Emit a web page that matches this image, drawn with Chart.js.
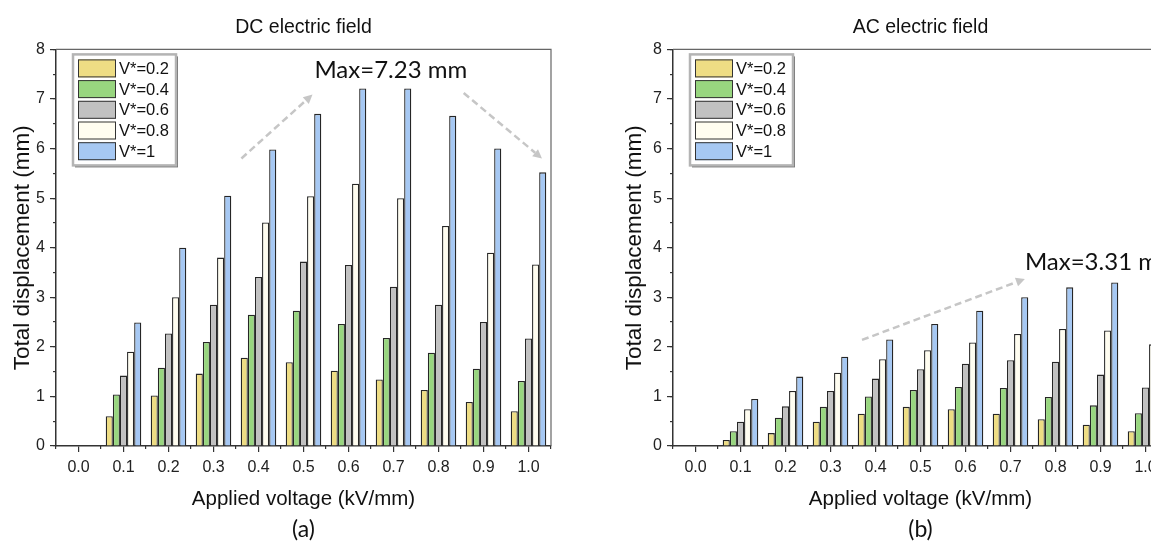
<!DOCTYPE html>
<html>
<head>
<meta charset="utf-8">
<script src="https://cdn.jsdelivr.net/npm/chart.js@4.4.1/dist/chart.umd.min.js"></script>
<style>
  html, body { margin: 0; padding: 0; background: #fff; overflow: hidden; }
  #wrap { position: relative; width: 1151px; height: 547px; overflow: hidden; }
  #dc-chart { position: absolute; left: 0; top: 0; }
  #ac-chart { position: absolute; left: 600px; top: 0; }
</style>
</head>
<body>
<div id="wrap">
  <canvas id="dc-chart" width="575" height="547"></canvas>
  <canvas id="ac-chart" width="600" height="547"></canvas>
</div>
<script>
const voltages = ["0.0", "0.1", "0.2", "0.3", "0.4", "0.5", "0.6", "0.7", "0.8", "0.9", "1.0"];
const seriesLabels = ["V*=0.2", "V*=0.4", "V*=0.6", "V*=0.8", "V*=1"];
const yTicks = [0, 1, 2, 3, 4, 5, 6, 7, 8];

// DC field, total displacement (mm)
const dcV02 = [0, 0.60, 1.02, 1.46, 1.78, 1.69, 1.52, 1.34, 1.13, 0.89, 0.70];
const dcV04 = [0, 1.04, 1.58, 2.10, 2.65, 2.73, 2.46, 2.18, 1.88, 1.56, 1.31];
const dcV06 = [0, 1.42, 2.27, 2.85, 3.41, 3.72, 3.65, 3.21, 2.85, 2.50, 2.17];
const dcV08 = [0, 1.90, 3.00, 3.80, 4.51, 5.04, 5.29, 5.00, 4.44, 3.90, 3.66];
const dcV10 = [0, 2.49, 4.00, 5.05, 5.98, 6.70, 7.21, 7.21, 6.66, 6.00, 5.52];

// AC field, total displacement (mm)
const acV02 = [0, 0.12, 0.26, 0.49, 0.65, 0.79, 0.74, 0.65, 0.54, 0.43, 0.30];
const acV04 = [0, 0.30, 0.57, 0.79, 1.00, 1.13, 1.19, 1.17, 0.99, 0.82, 0.66];
const acV06 = [0, 0.49, 0.80, 1.11, 1.36, 1.55, 1.66, 1.73, 1.70, 1.44, 1.18];
const acV08 = [0, 0.74, 1.11, 1.48, 1.75, 1.93, 2.09, 2.26, 2.36, 2.33, 2.05];
const acV10 = [0, 0.95, 1.40, 1.80, 2.15, 2.46, 2.73, 3.00, 3.20, 3.30, 3.31];

const barColors = ["#EEDD84", "#98D67F", "#C1C1C1", "#FFFDF0", "#A6C8F3"];
const tickFont = '"Liberation Sans", Arial, sans-serif';
const noteFont = 'Lato, "Open Sans", sans-serif';

function makeDatasets(series) {
  return series.map((values, i) => ({
    label: seriesLabels[i],
    data: values,
    backgroundColor: barColors[i],
    borderColor: "#262626",
    borderWidth: 1.3,
    barPercentage: 1.0,
    categoryPercentage: 0.79
  }));
}

// plot frame (top + right edge)
const framePlugin = {
  id: "frame",
  afterDraw(chart) {
    const { ctx, chartArea: a } = chart;
    ctx.save();
    ctx.strokeStyle = "#666";
    ctx.lineWidth = 1.2;
    ctx.beginPath();
    ctx.moveTo(a.left, a.top);
    ctx.lineTo(a.right, a.top);
    ctx.lineTo(a.right, a.bottom);
    ctx.stroke();
    ctx.restore();
  }
};

// boxed legend inside the plot, top-left
const boxLegend = {
  id: "boxLegend",
  afterDraw(chart) {
    const { ctx, chartArea: a } = chart;
    const x0 = a.left + 17, y0 = a.top + 5, w = 103, h = 111, rowH = 20.7;
    ctx.save();
    ctx.fillStyle = "#707070";
    ctx.fillRect(x0 + 2, y0 + 2, w, h);
    ctx.fillStyle = "#fff";
    ctx.fillRect(x0, y0, w, h);
    ctx.strokeStyle = "#b4b4b4";
    ctx.lineWidth = 2.5;
    ctx.strokeRect(x0, y0, w, h);
    ctx.font = "16.5px " + tickFont;
    ctx.textBaseline = "middle";
    chart.data.datasets.forEach((ds, i) => {
      const sy = y0 + 5 + i * rowH;
      ctx.fillStyle = ds.backgroundColor;
      ctx.fillRect(x0 + 5, sy, 38, 18);
      ctx.strokeStyle = "#333";
      ctx.lineWidth = 1;
      ctx.strokeRect(x0 + 5.5, sy + 0.5, 37, 17);
      ctx.fillStyle = "#111";
      ctx.fillText(ds.label, x0 + 46, sy + 10);
    });
    ctx.restore();
  }
};

// dashed arrows + max note, placed in data units
const notePlugin = {
  id: "note",
  afterDatasetsDraw(chart, args, opts) {
    const { ctx } = chart;
    const xs = chart.scales.x, ys = chart.scales.y;
    const px = (p) => [xs.getPixelForValue(p[0]), ys.getPixelForValue(p[1])];
    ctx.save();
    (opts.arrows || []).forEach((ar) => {
      const [x1, y1] = px(ar.from);
      const [x2, y2] = px(ar.to);
      const ang = Math.atan2(y2 - y1, x2 - x1);
      const hl = 9, hw = 4.5;
      const bx = x2 - hl * Math.cos(ang), by = y2 - hl * Math.sin(ang);
      ctx.strokeStyle = "#c6c6c6";
      ctx.fillStyle = "#c6c6c6";
      ctx.lineWidth = 2.5;
      ctx.setLineDash([7, 4]);
      ctx.beginPath();
      ctx.moveTo(x1, y1);
      ctx.lineTo(bx, by);
      ctx.stroke();
      ctx.setLineDash([]);
      ctx.beginPath();
      ctx.moveTo(x2, y2);
      ctx.lineTo(bx + hw * Math.sin(ang), by - hw * Math.cos(ang));
      ctx.lineTo(bx - hw * Math.sin(ang), by + hw * Math.cos(ang));
      ctx.closePath();
      ctx.fill();
    });
    if (opts.text) {
      const [tx, ty] = px(opts.at);
      ctx.font = "24px " + noteFont;
      ctx.fillStyle = "#111";
      ctx.textAlign = opts.align || "center";
      ctx.textBaseline = "middle";
      ctx.fillText(opts.text, tx, ty);
    }
    ctx.restore();
  }
};

function buildChart(canvasId, cfg) {
  const canvas = document.getElementById(canvasId);
  return new Chart(canvas, {
    type: "bar",
    data: { labels: voltages, datasets: makeDatasets(cfg.series) },
    plugins: [framePlugin, boxLegend, notePlugin],
    options: {
      responsive: false,
      animation: false,
      layout: { padding: { left: 0, right: cfg.padRight, top: 0, bottom: 0 } },
      plugins: {
        legend: { display: false },
        tooltip: { enabled: false },
        title: {
          display: true,
          text: cfg.title,
          fullSize: false,
          color: "#111",
          font: { family: tickFont, size: 19.5, weight: "normal" },
          padding: { top: 16, bottom: 10 }
        },
        subtitle: {
          display: true,
          text: cfg.tag,
          position: "bottom",
          fullSize: false,
          color: "#111",
          font: { family: noteFont, size: 23, weight: "normal" },
          padding: { top: 4, bottom: 4 }
        },
        note: cfg.note
      },
      scales: {
        x: {
          type: "category",
          weight: 1,
          offset: true,
          grid: { offset: false, drawOnChartArea: false, tickLength: 6, color: "#333", lineWidth: 1.2 },
          border: { display: true, color: "#333", width: 1.5 },
          ticks: { padding: 6, maxRotation: 0, color: "#222", font: { family: tickFont, size: 16 } },
          title: {
            display: true,
            text: "Applied voltage (kV/mm)",
            color: "#111",
            font: { family: tickFont, size: 20.5 },
            padding: { top: 0, bottom: 0 }
          },
          afterFit: (s) => { s.height = 65.4; }
        },
        xMinor: {
          type: "category",
          position: "bottom",
          weight: 0,
          offset: true,
          grid: { offset: true, drawOnChartArea: false, tickLength: 3, color: "#333", lineWidth: 1.2 },
          border: { display: false },
          ticks: { display: false },
          afterFit: (s) => { s.height = 0; }
        },
        y: {
          type: "linear",
          position: "left",
          weight: 1,
          min: yTicks[0],
          max: yTicks[yTicks.length - 1],
          afterBuildTicks: (s) => { s.ticks = yTicks.map((v) => ({ value: v })); },
          ticks: { padding: 5, color: "#222", font: { family: tickFont, size: 16 } },
          grid: { drawOnChartArea: false, tickLength: 6, color: "#333", lineWidth: 1.2 },
          border: { display: true, color: "#333", width: 1.5 },
          title: {
            display: true,
            text: "Total displacement (mm)",
            color: "#111",
            font: { family: tickFont, size: 22.5 },
            padding: { top: cfg.yTitlePad, bottom: 0 }
          },
          afterFit: (s) => { s.width = cfg.yWidth; }
        },
        yMinor: {
          type: "linear",
          position: "left",
          weight: 0,
          min: 0,
          max: 8,
          ticks: { display: false, stepSize: 0.5 },
          grid: { drawOnChartArea: false, tickLength: 3, color: "#333", lineWidth: 1.2 },
          border: { display: false },
          afterFit: (s) => { s.width = 0; }
        }
      }
    }
  });
}

buildChart("dc-chart", {
  title: "DC electric field",
  tag: "(a)",
  series: [dcV02, dcV04, dcV06, dcV08, dcV10],
  yWidth: 56,
  yTitlePad: 9,
  padRight: 24,
  note: {
    arrows: [
      { from: [3.62, 5.80], to: [5.20, 7.09] },
      { from: [8.56, 7.12], to: [10.30, 5.80] }
    ],
    text: "Max=7.23 mm",
    at: [6.94, 7.58],
    align: "center"
  }
});

buildChart("ac-chart", {
  title: "AC electric field",
  tag: "(b)",
  series: [acV02, acV04, acV06, acV08, acV10],
  yWidth: 73,
  yTitlePad: 21,
  padRight: 32,
  note: {
    arrows: [
      { from: [3.70, 2.14], to: [7.32, 3.37] }
    ],
    text: "Max=3.31 mm",
    at: [7.32, 3.71],
    align: "left"
  }
});
</script>
</body>
</html>
